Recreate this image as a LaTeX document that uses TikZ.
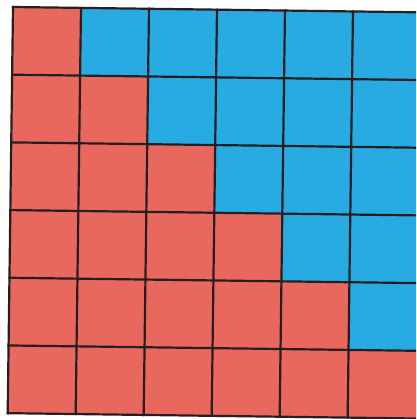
\documentclass[tikz,border=0pt]{standalone}
\definecolor{cellred}{RGB}{232,104,94}
\definecolor{cellblue}{RGB}{40,171,226}
\definecolor{gridline}{RGB}{38,30,32}
\begin{document}
\begin{tikzpicture}[x=1pt, y=-1pt,
    redcell/.style={fill=cellred},
    bluecell/.style={fill=cellblue},
    gridrule/.style={draw=gridline, line width=2.2pt, line cap=rect}]
  \useasboundingbox (0,0) rectangle (416,419);
  \fill[white] (0,0) rectangle (416,419);
  \clip (0,0) rectangle (416,419);
  \begin{scope}[shift={(13,7)}, rotate=-0.75, x=68pt, y=-67.7pt]
    % coloured cells: red on and below the diagonal
    \foreach \i in {0,...,5}
      \foreach \j in {0,...,5} {
        \ifnum\i>\j
          \path[bluecell] (\i,\j) rectangle ++(1.2,1);
        \else
          \path[redcell] (\i,\j) rectangle ++(1.2,1);
        \fi
      }
    % grid rules (the right edge runs off the page)
    \foreach \i in {0,...,5}
      \draw[gridrule] (\i,0) -- (\i,6);
    \foreach \j in {0,...,6}
      \draw[gridrule] (0,\j) -- (6.2,\j);
  \end{scope}
\end{tikzpicture}
\end{document}
